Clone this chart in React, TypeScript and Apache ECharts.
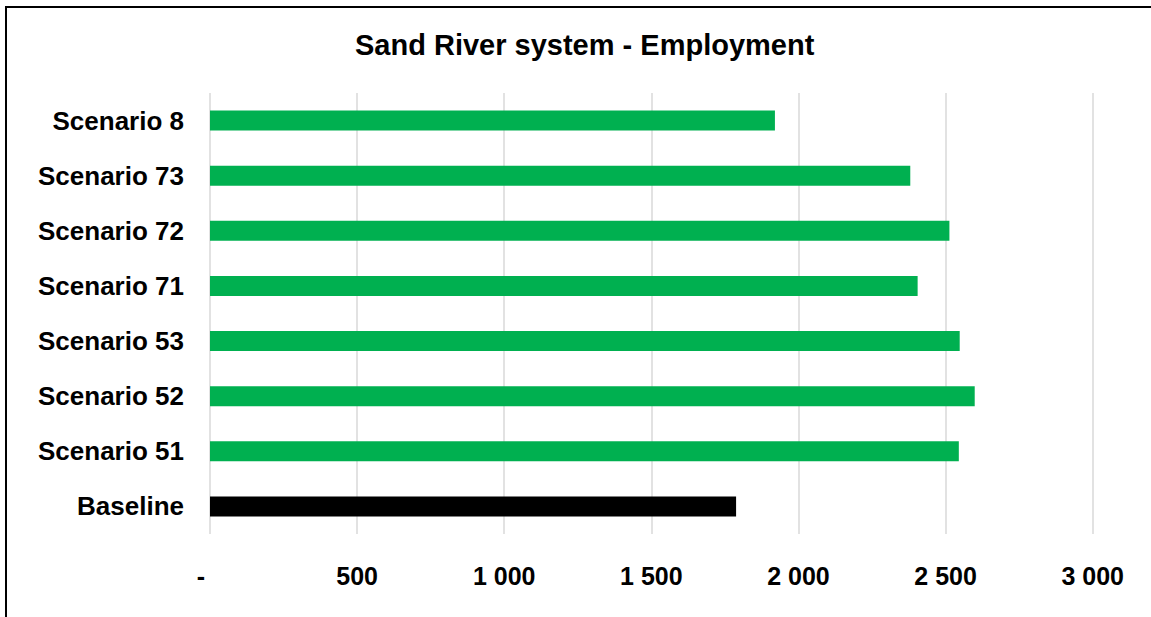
import React, { useEffect, useRef } from "react";
import * as echarts from "echarts";

const categories = [
  "Baseline",
  "Scenario 51",
  "Scenario 52",
  "Scenario 53",
  "Scenario 71",
  "Scenario 72",
  "Scenario 73",
  "Scenario 8",
];
const values = [1788, 2545, 2599, 2548, 2405, 2513, 2380, 1920];
const barColors = ["#000000", "#00B050", "#00B050", "#00B050", "#00B050", "#00B050", "#00B050", "#00B050"];
const xTicks = [0, 500, 1000, 1500, 2000, 2500, 3000];
const titleText = "Sand River system - Employment";

const fmt = (v: number) => {
  if (v === 0) return "{dash|-}";
  const s = String(Math.round(v));
  return s.replace(/\B(?=(\d{3})+(?!\d))/g, " ");
};

export default function App() {
  const ref = useRef<HTMLDivElement>(null);
  useEffect(() => {
    if (!ref.current) return;
    const chart = echarts.init(ref.current, null, { renderer: "svg" });
    const font = "'Liberation Sans', Arial, sans-serif";
    chart.setOption({
      animation: false,
      title: {
        text: titleText,
        left: 355,
        top: 30,
        padding: 0,
        textStyle: { fontFamily: font, fontWeight: "bold", fontSize: 29, color: "#000" },
      },
      grid: { left: 210, right: 58.3, top: 93, bottom: 83, containLabel: false },
      xAxis: {
        type: "value",
        min: xTicks[0],
        max: xTicks[xTicks.length - 1],
        interval: 500,
        axisLine: { show: false },
        axisTick: { show: false },
        splitLine: { show: true, lineStyle: { color: "#d9d9d9", width: 1.5 } },
        axisLabel: {
          margin: 29,
          fontFamily: font,
          fontWeight: "bold",
          fontSize: 25,
          color: "#000",
          formatter: (v: number) => fmt(v),
          rich: {
            dash: { fontFamily: font, fontWeight: "bold", fontSize: 25, color: "#000", padding: [0, 18, 0, 0] },
          },
        },
      },
      yAxis: {
        type: "category",
        data: categories,
        axisLine: { show: false },
        axisTick: { show: false },
        splitLine: { show: false },
        axisLabel: {
          margin: 26,
          fontFamily: font,
          fontWeight: "bold",
          fontSize: 26,
          color: "#000",
        },
      },
      series: [
        {
          type: "bar",
          barWidth: 20,
          data: values.map((v, i) => ({ value: v, itemStyle: { color: barColors[i] } })),
        },
      ],
    });
    return () => chart.dispose();
  }, []);
  return (
    <div style={{ position: "fixed", left: 0, top: 0, width: 1151, height: 617, overflow: "hidden", background: "#fff" }}>
      <div
        style={{
          position: "absolute",
          left: 5,
          top: 6,
          width: 1300,
          height: 800,
          border: "2px solid #000",
          boxSizing: "border-box",
        }}
      />
      <div ref={ref} style={{ position: "absolute", left: 0, top: 0, width: 1151, height: 617 }} />
    </div>
  );
}
